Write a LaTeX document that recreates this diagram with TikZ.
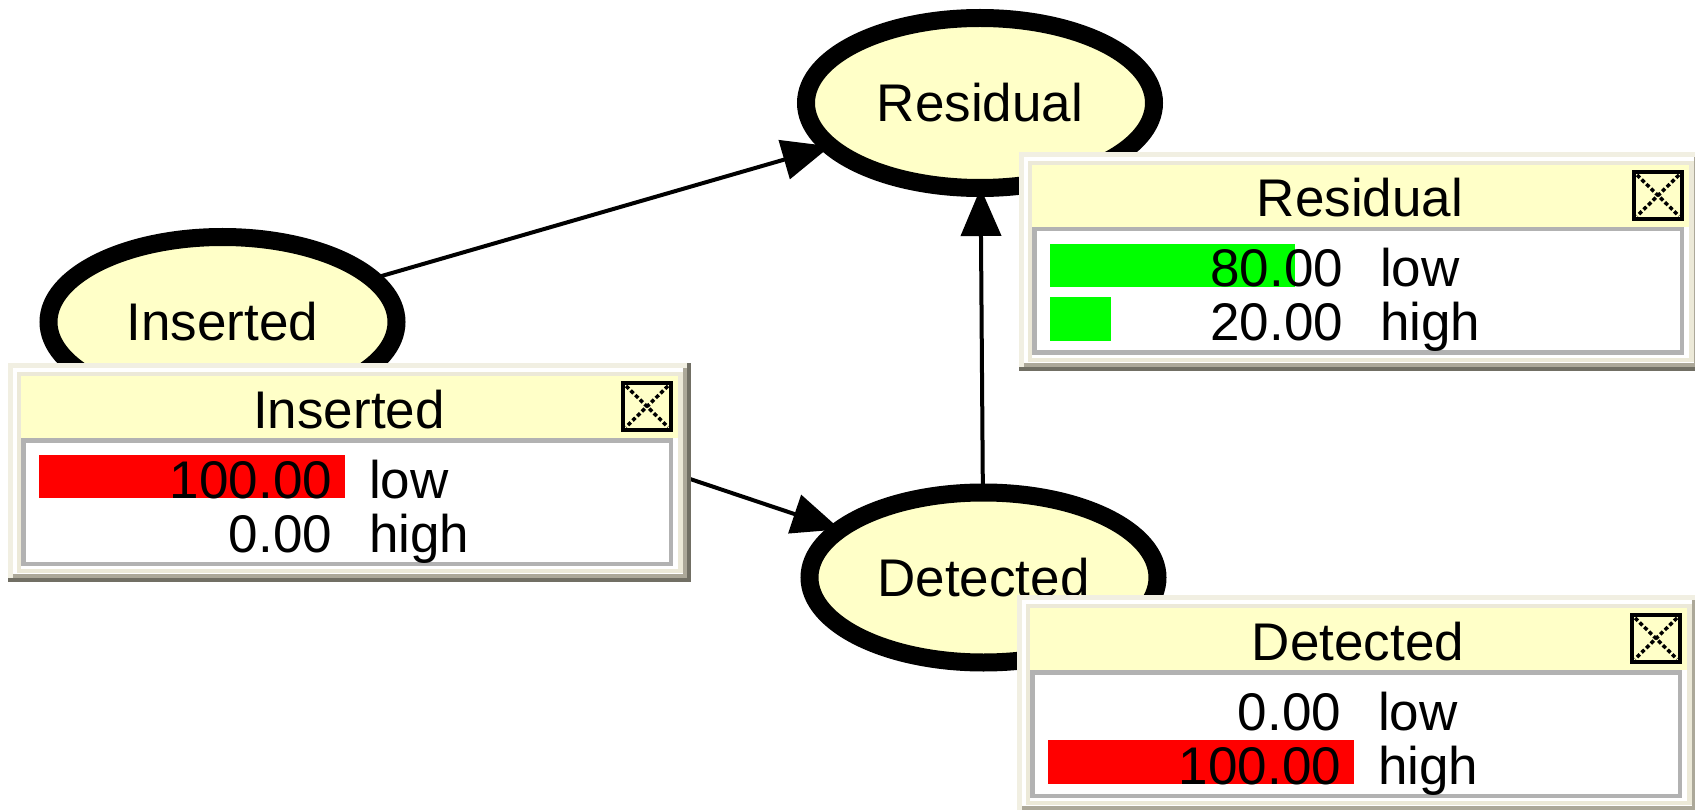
\documentclass[tikz,border=0pt]{standalone}
\usepackage{fontspec}
\setmainfont{Liberation Sans}
\usetikzlibrary{shapes.geometric,arrows.meta}
\definecolor{nodeyellow}{HTML}{FFFFC8}
\definecolor{fdark}{HTML}{716F64}
\definecolor{flight}{HTML}{F1EFE2}
\definecolor{fgray}{HTML}{ACA899}
\definecolor{fbeige}{HTML}{ECE9D8}
\definecolor{bodygray}{HTML}{B2B2B2}
\definecolor{barred}{HTML}{FF0000}
\definecolor{bargreen}{HTML}{00FF00}
\newcommand\bnfont{\fontsize{53}{60}\selectfont}
% #1 x0, #2 y0, #3 name prefix, #4 title, #5 value 1, #6 value 2, #7 bar 1 width, #8 bar 2 width, #9 bar colour
\newcommand\bntable[9]{%
\begin{scope}[shift={(#1,#2)}]
  \fill[fdark] (0,0) rectangle (683,219);
  \fill[flight] (0,0) rectangle (679,215);
  \fill[fgray] (5,5) rectangle (679,215);
  \fill[white] (5,5) rectangle (675,211);
  \fill[fbeige] (9,9) rectangle (675,210);
  \fill[white] (13,13) rectangle (670,206);
  \fill[nodeyellow] (13,13) rectangle (670,75);
  \draw[bodygray, line width=4.5pt] (15.25,77.25) rectangle (662.75,200.75);
  \ifdim#7pt>0pt \fill[#9] (31,92) rectangle ++(#7,43);\fi
  \ifdim#8pt>0pt \fill[#9] (31,145) rectangle ++(#8,44);\fi
  \node[celltext, anchor=base] (#3title) at (341,65) {#4};
  \node[celltext, anchor=base east] (#3valA) at (324,135) {#5};
  \node[celltext, anchor=base west] (#3labA) at (361,135) {low};
  \node[celltext, anchor=base east] (#3valB) at (324,189) {#6};
  \node[celltext, anchor=base west] (#3labB) at (361,189) {high};
  \draw[black, line width=4pt] (615,20) rectangle (663,67);
  \draw[closex] (618,23) -- (660,64);
  \draw[closex] (660,23) -- (618,64);
\end{scope}}
\begin{document}
\begin{tikzpicture}[x=1pt, y=-1pt,
  bnnode/.style={ellipse, draw=black, line width=18pt, fill=nodeyellow,
    minimum width=348pt, minimum height=170pt, inner sep=0pt, outer sep=0pt,
    font=\bnfont, text=black},
  edge/.style={line width=4pt, -{Triangle[length=48pt,width=40pt]}},
  celltext/.style={font=\bnfont, inner sep=0pt, outer sep=0pt, text=black},
  closex/.style={line width=3.5pt, dash pattern=on 4pt off 2.5pt}]
\clip (0,0) rectangle (1695,810);
\fill[white] (0,0) rectangle (1695,810);
% nodes
\node[bnnode] (res) at (980,103) {Residual};
\node[bnnode] (ins) at (222.5,322) {Inserted};
\node[bnnode] (det) at (983.5,577.5) {Detected};
% connectors
\draw[edge] (ins) -- (res);
\draw[edge] (ins) -- (det);
\draw[edge] (det) -- (res);
% probability tables
\bntable{8}{363}{tins}{Inserted}{100.00}{0.00}{306}{0}{barred}
\bntable{1019}{152}{tres}{Residual}{80.00}{20.00}{245}{61}{bargreen}
\bntable{1017}{595}{tdet}{Detected}{0.00}{100.00}{0}{306}{barred}
\end{tikzpicture}
\end{document}
